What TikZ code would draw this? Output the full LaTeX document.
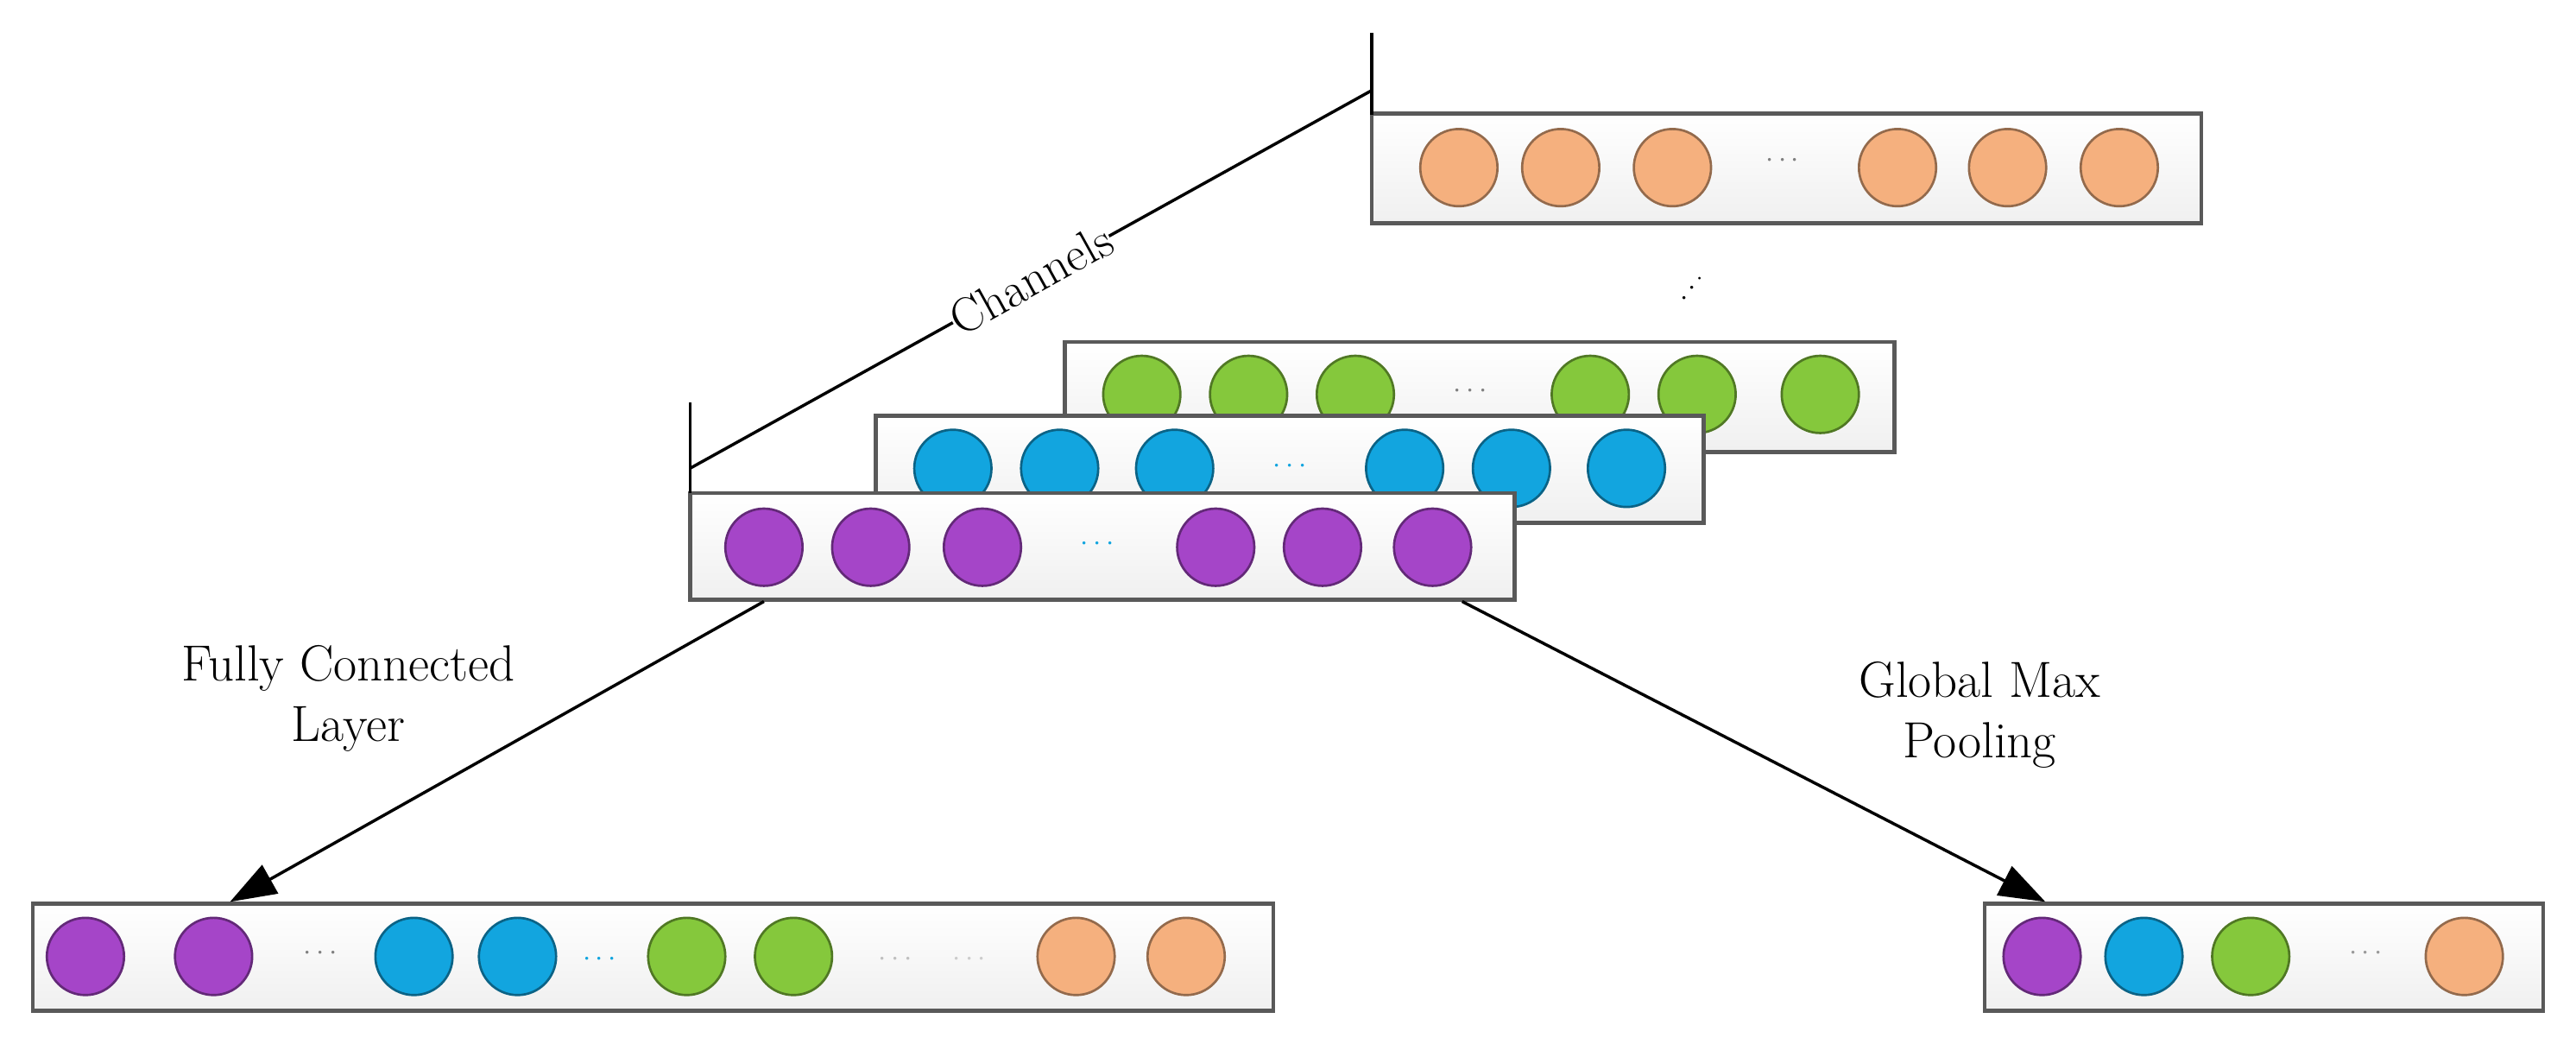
\documentclass[tikz,border=0pt]{standalone}
\usetikzlibrary{arrows.meta}
\definecolor{cpur}{HTML}{A545C8}
\definecolor{cblu}{HTML}{12A5DF}
\definecolor{cgrn}{HTML}{85C83C}
\definecolor{cora}{HTML}{F5B07E}
\begin{document}
\begin{tikzpicture}[x=0.05cm,y=-0.05cm,
 box/.style={draw=black!65,line width=3.5pt,top color=white,bottom color=black!6},
 dot/.style={circle,draw=#1!60!black,fill=#1,line width=2pt,minimum width=2.1cm,minimum height=2.35cm,inner sep=0pt},
 dd/.style={font=\fontsize{34}{36}\selectfont,text=#1},
 lbl/.style={font=\fontsize{44}{52}\selectfont,align=center},
 ln/.style={line width=2.6pt}]
\useasboundingbox (0,0) rectangle (1568,635);
% orange
\node[box,minimum width=25.25cm,minimum height=3.35cm,inner sep=0pt] (bo) at (1087.5,102.5) {};
\foreach \x [count=\i] in {888,950,1018,1155,1222,1290} \node[dot=cora] (o\i) at (\x,102) {};
\node[dd=black!50] (od) at (1085,98) {$\cdots$};
\node[font=\fontsize{44}{44}\selectfont] (vd) at (1030,176) {$\cdot^{\cdot^{\cdot}}$};
% green
\node[box,minimum width=25.25cm,minimum height=3.35cm,inner sep=0pt] (bg) at (900.5,241.5) {};
\foreach \x [count=\i] in {695,760,825,968,1033,1108} \node[dot=cgrn] (g\i) at (\x,240) {};
\node[dd=black!50] (gd) at (895,238) {$\cdots$};
% blue
\node[box,minimum width=25.2cm,minimum height=3.25cm,inner sep=0pt] (bb) at (785,285.5) {};
\foreach \x [count=\i] in {580,645,715,855,920,990} \node[dot=cblu] (b\i) at (\x,285) {};
\node[dd=cblu] (bd) at (785,284) {$\cdots$};
% purple
\node[box,minimum width=25.1cm,minimum height=3.25cm,inner sep=0pt] (bp) at (671,332.5) {};
\foreach \x [count=\i] in {465,530,598,740,805,872} \node[dot=cpur] (p\i) at (\x,333) {};
\node[dd=cblu] (pd) at (668,331) {$\cdots$};
% channels
\coordinate (t1a) at (835,20); \coordinate (t1b) at (835,70);
\coordinate (t2a) at (420,245); \coordinate (t2b) at (420,300);
\coordinate (c1) at (835,55); \coordinate (c2) at (420,285);
\draw[ln] (t1a) -- (t1b); \draw[ln] (t2a) -- (t2b);
\draw[ln] (c2) -- node[sloped,fill=white,inner sep=0pt,font=\fontsize{42}{44}\selectfont] (ch) {Channels} (c1);
% bottom left
\node[box,minimum width=37.75cm,minimum height=3.25cm,inner sep=0pt] (bl) at (397.5,582.5) {};
\foreach \x/\c [count=\i] in {52/cpur,130/cpur,252/cblu,315/cblu,418/cgrn,483/cgrn,655/cora,722/cora} \node[dot=\c] (l\i) at (\x,582) {};
\node[dd=black!50] (ld1) at (195,580) {$\cdots$};
\node[dd=cblu] (ld2) at (365,584) {$\cdots$};
\node[dd=black!25] (ld3) at (545,584) {$\cdots$};
\node[dd=black!20] (ld4) at (590,584) {$\cdots$};
% bottom right
\node[box,minimum width=17cm,minimum height=3.25cm,inner sep=0pt] (br) at (1378,582.5) {};
\foreach \x/\c [count=\i] in {1243/cpur,1305/cblu,1370/cgrn,1500/cora} \node[dot=\c] (r\i) at (\x,582) {};
\node[dd=black!40] (rd) at (1440,580) {$\cdots$};
% arrows
\coordinate (a1) at (465,366); \coordinate (a2) at (890,366);
\draw[ln,-{Triangle[length=40pt,width=28pt]}] (a1) -- (bl.north west -| 140,550);
\draw[ln,-{Triangle[length=40pt,width=28pt]}] (a2) -- (br.north west -| 1245,550);
\node[lbl] (fc) at (212,425) {Fully Connected\\Layer};
\node[lbl] (gm) at (1205,435) {Global Max\\Pooling};
\end{tikzpicture}
\end{document}
